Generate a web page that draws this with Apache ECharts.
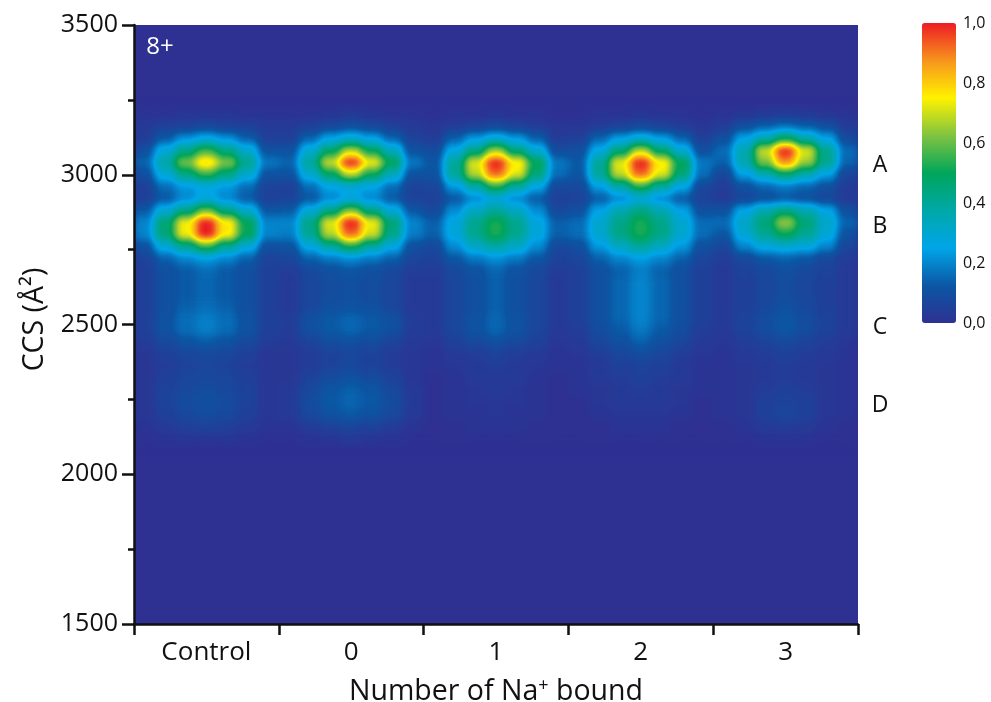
<!DOCTYPE html>
<html><head><meta charset="utf-8">
<style>html,body{margin:0;padding:0;background:#fff}#c{width:991px;height:702px}#f{position:absolute;width:0;height:0}</style>
<script src="https://cdn.jsdelivr.net/npm/echarts@6/dist/echarts.min.js"></script>
</head><body>
<svg id="f" aria-hidden="true"><filter id="cmap" color-interpolation-filters="sRGB" x="0" y="0" width="100%" height="100%"><feComponentTransfer><feFuncR id="fr" type="table"/><feFuncG id="fg" type="table"/><feFuncB id="fb" type="table"/></feComponentTransfer></filter></svg>
<div id="c"></div>
<script>
const laneLabels = ['Control','0','1','2','3'];
const colorbarTicks = [0,0.2,0.4,0.6,0.8,1];
const rampColors = ['#2e3192','#0b57a4','#00a5e8','#00a8a8','#00a65a','#80c341','#fff200','#f7941d','#ed1c24'];
const ccsBins = [1520,1560,1600,1640,1680,1720,1760,1800,1840,1880,1920,1960,2000,2040,2080,2120,2160,2200,2240,2280,2320,2360,2400,2440,2480,2520,2560,2600,2640,2680,2720,2760,2800,2840,2880,2920,2960,3000,3040,3080,3120,3160,3200,3240,3280,3320,3360,3400,3440,3480];
const ccsRows = [3200,3160,3120,3080,3040,3000,2960,2920,2880,2840,2800,2760,2720,2680,2640,2600,2560,2520,2480,2440,2400,2360,2320,2280,2240,2200,2160,2120];
// intensity in percent, 7 samples across each lane, one line per ccsRows entry
const laneControl = [
[1,1,2,2,2,1,1],[3,5,6,8,6,5,3],[4,13,22,27,22,14,5],[10,29,43,56,44,31,11],[15,38,62,80,63,42,18],[10,29,43,55,44,31,11],[5,16,23,26,23,16,6],[5,12,20,27,20,13,5],[13,30,43,60,43,31,12],[20,46,74,100,76,50,20],[20,46,74,100,76,50,20],[11,29,41,56,41,29,10],[6,14,20,24,20,14,6],[5,10,13,16,13,10,5],[5,10,13,15,13,10,5],[5,10,13,15,13,10,5],[5,10,14,16,14,10,5],[5,11,16,19,16,11,5],[5,11,16,19,16,11,5],[4,8,11,13,11,8,4],[2,5,7,8,7,5,2],[2,4,6,7,6,4,2],[2,5,7,8,7,5,2],[2,6,8,9,8,6,2],[2,6,9,10,9,6,2],[2,5,8,9,8,5,2],[1,3,5,6,5,3,1],[0,1,2,2,2,1,0]];
const laneZero = [
[1,1,2,3,2,1,1],[3,5,8,10,8,5,3],[5,15,25,31,25,15,6],[11,30,48,68,50,34,11],[15,40,70,100,75,50,18],[11,30,48,68,50,34,11],[5,16,25,28,25,16,6],[6,12,20,26,20,13,6],[13,29,43,62,43,29,12],[20,43,72,100,74,46,20],[19,41,68,92,70,43,19],[11,27,39,52,39,27,10],[7,14,18,21,18,14,7],[4,8,10,12,10,8,4],[3,7,9,10,9,7,3],[3,7,9,10,9,7,3],[3,7,10,11,10,7,3],[4,10,13,15,13,10,4],[4,10,13,15,13,10,4],[3,6,9,10,9,6,3],[2,4,6,7,6,4,2],[2,4,6,8,6,4,2],[2,6,9,11,9,6,2],[3,8,12,14,12,8,3],[3,9,13,15,13,9,3],[3,8,11,13,11,8,3],[1,4,6,7,6,4,1],[0,1,2,3,2,1,0]];
const laneOne = [
[0,1,1,2,1,1,0],[2,4,6,8,6,4,2],[4,14,23,30,23,14,4],[9,27,43,66,45,30,9],[12,40,72,100,77,50,18],[11,40,68,92,72,45,16],[7,23,37,54,39,26,8],[5,12,20,27,20,13,5],[8,21,33,40,33,21,8],[14,28,42,52,42,28,14],[14,28,42,52,42,28,14],[8,21,32,38,32,21,8],[6,12,18,22,18,12,6],[4,8,11,15,11,8,4],[3,7,10,14,10,7,3],[3,7,10,14,10,7,3],[3,7,10,14,10,7,3],[3,7,11,15,11,7,3],[3,7,11,15,11,7,3],[2,5,8,10,8,5,2],[1,3,4,6,4,3,1],[1,2,3,4,3,2,1],[0,1,3,3,3,1,0],[0,1,2,3,2,1,0],[0,1,2,2,2,1,0],[0,1,1,2,1,1,0],[0,0,1,1,1,0,0],[0,0,0,0,0,0,0]];
const laneTwo = [
[0,1,1,2,1,1,0],[2,4,6,8,6,4,2],[5,15,24,31,24,15,5],[10,27,45,68,47,30,10],[13,40,73,100,77,50,18],[12,40,69,92,72,46,16],[8,24,37,54,39,26,8],[6,13,20,27,20,13,6],[10,25,36,44,36,25,10],[16,30,43,52,43,30,16],[16,30,43,52,43,30,16],[10,23,33,40,33,23,10],[7,14,20,24,20,14,7],[5,10,14,19,14,10,5],[5,10,15,20,15,10,5],[5,10,15,20,15,10,5],[5,10,15,20,15,10,5],[5,10,15,20,15,10,5],[4,9,13,18,13,9,4],[3,7,10,14,10,7,3],[2,4,7,9,7,4,2],[1,3,5,6,5,3,1],[1,3,4,5,4,3,1],[1,2,3,4,3,2,1],[0,2,3,3,3,2,0],[0,1,2,2,2,1,0],[0,0,1,1,1,0,0],[0,0,0,0,0,0,0]];
const laneThree = [
[1,2,3,4,3,2,1],[4,10,14,17,14,10,4],[10,25,37,50,37,25,9],[16,36,70,100,72,42,16],[14,36,62,88,65,42,15],[7,24,35,46,36,24,7],[4,10,15,18,15,10,4],[3,7,10,12,10,7,3],[11,26,37,44,37,26,10],[16,32,46,65,46,32,15],[12,29,41,50,41,29,11],[7,20,28,30,28,20,7],[4,8,12,14,12,8,4],[3,6,8,10,8,6,3],[3,5,7,9,7,5,3],[3,5,7,9,7,5,3],[3,5,8,10,8,5,3],[3,6,9,12,9,6,3],[3,6,9,12,9,6,3],[2,4,6,8,6,4,2],[1,3,4,5,4,3,1],[1,2,3,4,3,2,1],[1,2,3,4,3,2,1],[1,2,4,5,4,2,1],[1,2,5,6,5,2,1],[1,2,5,7,5,2,1],[0,1,3,4,3,1,0],[0,0,1,1,1,0,0]];
const lanes = [laneControl,laneZero,laneOne,laneTwo,laneThree];
const SUB = 7;
const subCols = [];
for (let i=0;i<lanes.length*SUB;i++) subCols.push(String(i));
const cells = [];
lanes.forEach((lane,l)=>lane.forEach((row,r)=>row.forEach((v,c)=>{
  cells.push([l*SUB+c, ccsBins.indexOf(ccsRows[r]), v/100]);
})));
// the surface is drawn as intensity, smoothed, then coloured with the same ramp as the colour bar
const channel = (hex,i)=>parseInt(hex.substr(1+i*2,2),16)/255;
['fr','fg','fb'].forEach((id,i)=>document.getElementById(id).setAttribute('tableValues',rampColors.map(c=>channel(c,i).toFixed(4)).join(' ')));
const FONT = '"Open Sans","Noto Sans",sans-serif';
const INK = '#111';
const chart = echarts.init(document.getElementById('c'),null,{renderer:'canvas'});
const lineStyle = {color:INK,width:2.5};
const textEl = (x,y,t,size,fill)=>({type:'text',x,y,zlevel:2,silent:true,style:{text:t,font:`${size}px ${FONT}`,fill,textAlign:'center',textVerticalAlign:'middle'}});
chart.setOption({
  animation:false,
  tooltip:{show:false},
  grid:[
    {left:134,top:25,width:724,height:599,show:true,backgroundColor:'#2e3192',borderWidth:0,outerBoundsMode:'none'},
    {left:922,top:23,width:34,height:300,outerBoundsMode:'none'}
  ],
  xAxis:[
    {gridIndex:0,type:'category',data:laneLabels,position:'bottom',zlevel:2,
     axisLine:{lineStyle,onZero:false},axisTick:{show:true,length:11,lineStyle},splitLine:{show:false},
     axisLabel:{color:INK,fontFamily:FONT,fontSize:26,margin:16,interval:0},
     name:'Number of Na{s|+} bound',nameLocation:'middle',nameGap:53,nameMoveOverlap:false,
     nameTextStyle:{color:INK,fontFamily:FONT,fontSize:28.5,rich:{s:{fontFamily:FONT,fontSize:18,verticalAlign:'top',color:INK,padding:[0,0,10,0]}}}},
    {gridIndex:0,type:'category',data:subCols,show:false},
    {gridIndex:1,type:'category',data:[''],show:false}
  ],
  yAxis:[
    {gridIndex:0,type:'value',min:1500,max:3500,interval:500,zlevel:2,
     axisLine:{show:true,lineStyle,onZero:false},axisTick:{show:true,length:12,lineStyle},
     minorTick:{show:true,splitNumber:2,length:6,lineStyle},splitLine:{show:false},minorSplitLine:{show:false},
     axisLabel:{color:INK,fontFamily:FONT,fontSize:25,margin:16,formatter:v=>String(v)},
     name:'CCS (Å²)',nameLocation:'middle',nameGap:85,nameMoveOverlap:false,
     nameTextStyle:{color:INK,fontFamily:FONT,fontSize:28.5,padding:[0,0,0,10]}},
    {gridIndex:0,type:'category',data:ccsBins.map(String),show:false},
    {gridIndex:1,type:'value',min:0,max:1,interval:0.2,position:'right',
     axisLine:{show:false},axisTick:{show:false},splitLine:{show:false},
     axisLabel:{color:INK,fontFamily:FONT,fontSize:16,margin:7,customValues:colorbarTicks,
       formatter:v=>v.toFixed(1).replace('.',',')}}
  ],
  visualMap:[
    {type:'continuous',show:false,min:0,max:1,seriesIndex:0,inRange:{color:['#000000','#ffffff']}},
    {type:'continuous',min:0,max:1,seriesIndex:1,left:922,top:23,itemWidth:34,itemHeight:300,padding:0,
     calculable:false,hoverLink:false,text:null,showLabel:false,borderRadius:0,
     inRange:{color:rampColors},formatter:()=>''}
  ],
  series:[
    {type:'heatmap',xAxisIndex:1,yAxisIndex:1,zlevel:1,data:cells,silent:true,progressive:0,itemStyle:{borderWidth:0},emphasis:{disabled:true}},
    {type:'scatter',xAxisIndex:2,yAxisIndex:2,data:[],silent:true}
  ],
  graphic:{elements:[
    textEl(160,47,'8+',24,'#fff'),
    textEl(880,165,'A',23,INK),textEl(880,226,'B',23,INK),
    textEl(880,327,'C',23,INK),textEl(880,405,'D',23,INK)
  ]}
});
const layer = chart.getZr().painter.getLayer(1);
layer.dom.style.filter='blur(4px) url(#cmap)';
layer.dom.style.clipPath='inset(25px 133px 78px 134px)';
</script></body></html>
